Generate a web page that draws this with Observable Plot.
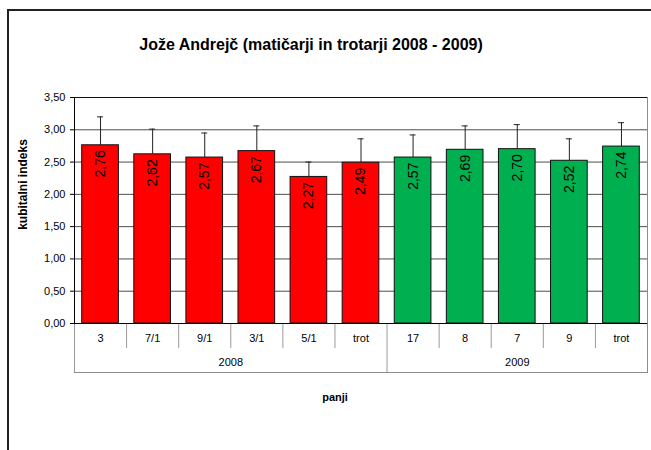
<!DOCTYPE html>
<html><head><meta charset="utf-8">
<script src="https://cdn.jsdelivr.net/npm/d3@7"></script>
<script src="https://cdn.jsdelivr.net/npm/@observablehq/plot@0.6"></script>
<style>
body{margin:0;overflow:hidden;background:#fff}
#wrap{position:relative;width:651px;height:450px;overflow:hidden;background:#fff}
#border{position:absolute;left:7px;top:9px;width:800px;height:600px;border-left:2px solid #222;border-top:2px solid #222}
#chart{position:absolute;left:0;top:0}
</style></head><body><div id="wrap"><div id="border"></div><div id="chart"></div></div>
<script>
const naslov = "Jože Andrejč (matičarji in trotarji 2008 - 2009)";
const panji = ["3","7/1","9/1","3/1","5/1","trot","17","8","7","9","trot"];
const leta = ["2008","2008","2008","2008","2008","2008","2009","2009","2009","2009","2009"];
const indeks = [2.76,2.62,2.57,2.67,2.27,2.49,2.57,2.69,2.70,2.52,2.74];
const napake = [0.44,0.39,0.38,0.39,0.23,0.37,0.35,0.37,0.38,0.34,0.37];
const yTicks = [0,0.5,1,1.5,2,2.5,3,3.5];
const yNaslov = "kubitalni indeks";
const xNaslov = "panji";

const fmt = d => d.toFixed(2).replace(".", ",");
const data = panji.map((p, i) => ({i, panj: p, leto: leta[i], v: indeks[i], e: napake[i]}));
const skupine = Array.from(d3.group(data, d => d.leto), ([leto, rows]) => ({
  leto, start: d3.min(rows, r => r.i), end: d3.max(rows, r => r.i) + 1
}));
const meje = data.map(d => d.i).filter(i => i > 0 && !skupine.some(s => s.start === i));
const dolgeMeje = skupine.map(s => s.start);

const W = 651, H = 450, mL = 74, mR = 4, mT = 97, mB = 127;
const font = "Liberation Sans, Arial, Helvetica, sans-serif";
const pad = 0.148;

const chart = Plot.plot({
  width: W, height: H,
  marginLeft: mL, marginRight: mR, marginTop: mT, marginBottom: mB,
  style: {fontFamily: font, fontSize: "11px", color: "#000", background: "transparent"},
  x: {type: "linear", domain: [0, data.length], axis: null},
  y: {domain: [0, 3.5], axis: null},
  color: {domain: ["2008", "2009"], range: ["#FF0000", "#00B050"]},
  marks: [
    Plot.frame({stroke: "#8c8c8c", insetBottom: -49}),
    Plot.ruleY(yTicks.slice(1), {stroke: "#4d4d4d"}),
    Plot.ruleY([3.5], {stroke: "#111"}),
    Plot.ruleX(meje, {x: d => d, y1: 0, y2: 0, insetBottom: -25, stroke: "#9a9a9a"}),
    Plot.ruleX(dolgeMeje, {x: d => d, y1: 0, y2: 0, insetBottom: -49, stroke: "#9a9a9a"}),
    Plot.ruleX(data, {x: d => d.i + 0.5, y1: "v", y2: d => d.v + d.e, stroke: "#222"}),
    Plot.ruleY(data, {y: d => d.v + d.e, x1: d => d.i + 0.5, x2: d => d.i + 0.5, insetLeft: -3, insetRight: -3, stroke: "#222"}),
    Plot.rectY(data, {x1: d => d.i + pad, x2: d => d.i + 1 - pad, y: "v", fill: "leto", stroke: "#111", strokeWidth: 1}),
    Plot.ruleY([0], {stroke: "#000"}),
    Plot.ruleX([0], {stroke: "#000"}),
    Plot.axisY(yTicks, {tickFormat: fmt, tickSize: 4, tickPadding: 5, label: null, fontSize: 11, stroke: "#000"}),
    Plot.text(data, {x: d => d.i + 0.5, y: "v", text: d => fmt(d.v), rotate: -90, textAnchor: "end", dy: 5, fontSize: 14, fill: "#000"}),
    Plot.text(data, {x: d => d.i + 0.5, frameAnchor: "bottom", dy: 18, text: "panj", fontSize: 11}),
    Plot.text(skupine, {x: s => (s.start + s.end) / 2, frameAnchor: "bottom", dy: 42, text: "leto", fontSize: 11}),
    Plot.text([xNaslov], {frameAnchor: "bottom", dx: -26, dy: 77, text: d => d, fontWeight: "bold", fontSize: 11}),
    Plot.text([yNaslov], {frameAnchor: "left", textAnchor: "middle", dx: -51, dy: -26, rotate: -90, text: d => d, fontWeight: "bold", fontSize: 12}),
    Plot.text([naslov], {frameAnchor: "top", textAnchor: "middle", dx: -50, dy: -58.5, text: d => d, fontWeight: "bold", fontSize: 16})
  ]
});
document.getElementById("chart").appendChild(chart);
</script>
</body></html>
